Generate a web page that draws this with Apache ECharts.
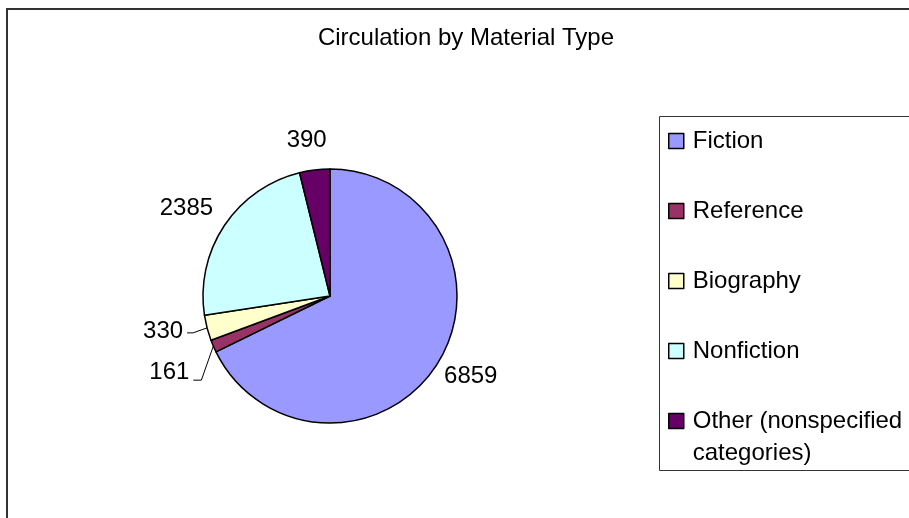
<!DOCTYPE html>
<html>
<head>
<meta charset="utf-8">
<title>Circulation by Material Type</title>
<script src="https://cdn.jsdelivr.net/npm/echarts@6/dist/echarts.min.js"></script>
<style>
    html, body { margin: 0; padding: 0; background: #fff; }
    #chart { width: 909px; height: 518px; }
</style>
</head>
<body>
<div id="chart"></div>
<script>
// 数据
var categories = ['Fiction', 'Reference', 'Biography', 'Nonfiction', 'Other (nonspecified categories)'];
var circulation = [6859, 161, 330, 2385, 390];
var sliceColors = ['#9999FF', '#993366', '#FFFFCC', '#CCFFFF', '#660066'];

var FONT = 'Arial, "Liberation Sans", sans-serif';
var cx = 330, cy = 296, R = 127;
// label centre, offset from the slice's outer edge point (px)
var labelOffset = [[33, 13], [-44, 26], [-44, 4], [-38, -17], [-8, -30]];
var hasLeader = [false, true, true, false, false];

var total = 0;
for (var i = 0; i < circulation.length; i++) {
    total += circulation[i];
}

// point on the rim in the middle of a slice (start at 12 o'clock, clockwise)
function edgePoint(idx) {
    var before = 0;
    for (var i = 0; i < idx; i++) {
        before += circulation[i];
    }
    var a = (before + circulation[idx] / 2) / total * Math.PI * 2;
    return [cx + R * Math.sin(a), cy - R * Math.cos(a)];
}

var pieData = [];
for (var j = 0; j < categories.length; j++) {
    pieData.push({
        name: categories[j],
        value: circulation[j],
        itemStyle: { color: sliceColors[j] },
        labelLine: { show: hasLeader[j] }
    });
}

var legendBase = {
    orient: 'vertical',
    left: 668,
    padding: 0,
    itemWidth: 15,
    itemHeight: 15,
    itemGap: 38,
    icon: 'rect',
    selectedMode: false,
    itemStyle: { borderColor: '#000', borderWidth: 1.5 },
    textStyle: {
        fontSize: 24,
        fontFamily: FONT,
        color: '#000',
        lineHeight: 32,
        padding: [0, 0, 0, 4]
    }
};

var myChart = echarts.init(document.getElementById('chart'));
var option = {
    backgroundColor: '#fff',
    animation: false,
    title: {
        text: 'Circulation by Material Type',
        left: 466,
        top: 26,
        padding: 0,
        textAlign: 'center',
        textStyle: { fontSize: 24, fontWeight: 'normal', fontFamily: FONT, color: '#000' }
    },
    legend: [
        echarts.util.merge({ data: categories.slice(0, 4), top: 125 }, legendBase),
        echarts.util.merge({
            data: categories.slice(4),
            top: 373,
            // first line empty so the square sits beside "Other (nonspecified"
            formatter: function(name) {
                return '\n' + name.replace(' categories', '\ncategories');
            }
        }, legendBase)
    ],
    graphic: [{
        // chart area frame
        type: 'rect',
        silent: true,
        shape: { x: 7, y: 9, width: 1000, height: 1000 },
        style: { fill: 'none', stroke: '#333', lineWidth: 2 }
    }, {
        // legend box
        type: 'rect',
        silent: true,
        shape: { x: 659.5, y: 116.5, width: 300, height: 354 },
        style: { fill: 'none', stroke: '#333', lineWidth: 1 }
    }],
    series: [{
        name: 'Circulation',
        type: 'pie',
        center: [cx, cy],
        radius: R,
        startAngle: 90,
        clockwise: true,
        avoidLabelOverlap: false,
        silent: true,
        emphasis: { disabled: true },
        itemStyle: { borderColor: '#000', borderWidth: 1.5 },
        label: {
            show: true,
            position: 'outside',
            formatter: '{c}',
            fontSize: 24,
            fontFamily: FONT,
            color: '#000'
        },
        labelLine: {
            smooth: false,
            lineStyle: { color: '#000', width: 1 }
        },
        labelLayout: function(p) {
            var e = edgePoint(p.dataIndex);
            var off = labelOffset[p.dataIndex];
            var x = e[0] + off[0];
            var y = e[1] + off[1];
            var res = { x: x, y: y, align: 'center', verticalAlign: 'middle' };
            if (hasLeader[p.dataIndex]) {
                var right = x + p.labelRect.width / 2;
                if (p.dataIndex === 1) {
                    res.labelLinePoints = [e, [right + 12, y + 8], [right + 4, y + 8]];
                } else {
                    res.labelLinePoints = [e, [right + 10, y + 1], [right + 4, y + 1]];
                }
            }
            return res;
        },
        data: pieData
    }]
};
myChart.setOption(option);
</script>
</body>
</html>
